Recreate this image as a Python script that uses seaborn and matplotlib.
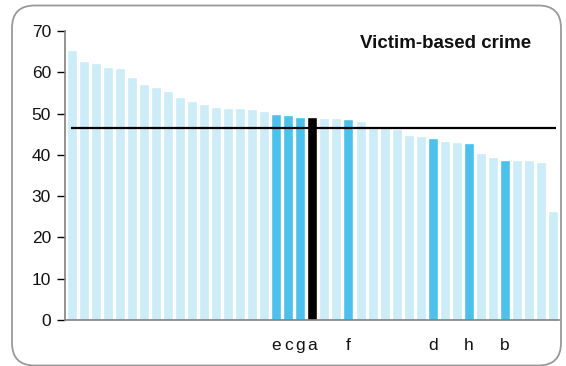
import matplotlib
matplotlib.use("Agg")
import matplotlib.pyplot as plt
from matplotlib.patches import FancyBboxPatch
import seaborn as sns
import pandas as pd

values = [65.4, 62.7, 62.3, 61.3, 61.0, 58.9, 57.2, 56.4, 55.5, 54.0,
          53.0, 52.3, 51.6, 51.3, 51.3, 51.1, 50.6, 49.9, 49.6, 49.1,
          49.1, 48.9, 48.9, 48.7, 48.2, 46.5, 46.5, 46.3, 44.8, 44.5,
          44.2, 43.3, 43.1, 42.8, 40.4, 39.4, 38.7, 38.7, 38.7, 38.2,
          26.3]
labels = [""] * 17 + ["e", "c", "g", "a", "", "", "f", "", "", "", "", "", "",
                      "d", "", "", "h", "", "", "b", "", "", "", ""]
groups = ["other"] * 17 + ["peer", "peer", "peer", "self", "other", "other", "peer",
                           "other", "other", "other", "other", "other", "other",
                           "peer", "other", "other", "peer", "other", "other",
                           "peer", "other", "other", "other", "other"]
average = 46.5
title = "Victim-based crime"

palette = {"other": "#CCECF8", "peer": "#4BC1EC", "self": "#000000"}

df = pd.DataFrame({"pos": list(range(len(values))), "value": values, "group": groups})

sns.set_style("white")
plt.rcParams["font.family"] = ["Liberation Sans", "DejaVu Sans"]

fig = plt.figure(figsize=(5.66, 3.66), dpi=100)
ax = fig.add_axes([0.1157, 0.1257, 0.8723, 0.7896])

sns.barplot(data=df, x="pos", y="value", hue="group", palette=palette,
            dodge=False, width=0.83, legend=False, ax=ax, saturation=1)

ax.hlines(average, -0.05, 40.2, color="black", lw=1.6, zorder=5)

ax.set_xlim(-0.5, len(values) - 0.5)
ax.set_ylim(0, 70)
ax.set_yticks(range(0, 71, 10))
ax.set_xticks(range(len(values)))
ax.set_xticklabels(labels)
ax.set_xlabel("")
ax.set_ylabel("")
ax.tick_params(axis="x", length=0, pad=13, labelsize=12.5, labelcolor="#111111")
ax.tick_params(axis="y", length=5.5, width=1, color="black", labelsize=12.5, pad=5,
               left=True, labelcolor="#111111")
for s in ["top", "right"]:
    ax.spines[s].set_visible(False)
for s in ["left", "bottom"]:
    ax.spines[s].set_color("#808080")
    ax.spines[s].set_linewidth(1.2)

ax.text(0.943, 0.958, title, transform=ax.transAxes, ha="right", va="center",
        fontsize=13.5, fontweight="bold", color="#111111")

frame = FancyBboxPatch((12 / 566, 0.5 / 366), (549 / 566), (360 / 366),
                       boxstyle="round,pad=0,rounding_size=0.04",
                       transform=fig.transFigure, fill=False,
                       edgecolor="#999999", lw=1.3, mutation_aspect=566 / 366)
fig.patches.append(frame)

fig.savefig("out.png", dpi=100)
